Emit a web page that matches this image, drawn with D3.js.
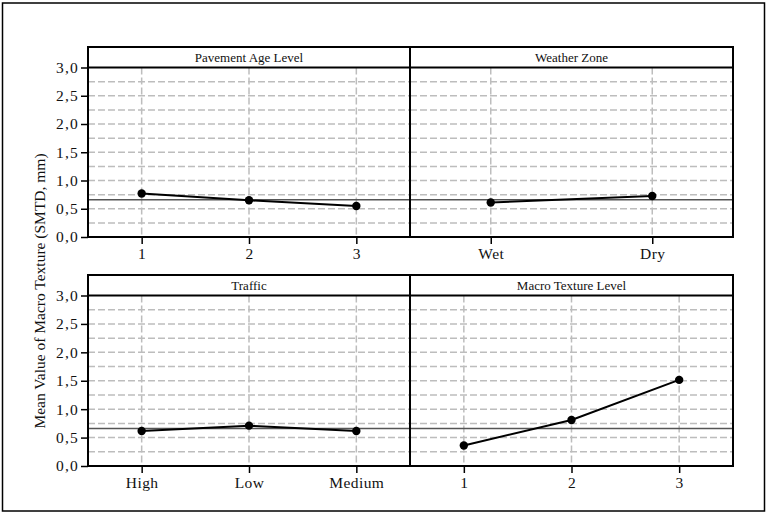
<!DOCTYPE html>
<html>
<head>
<meta charset="utf-8">
<script src="https://cdn.jsdelivr.net/npm/d3@7"></script>
<style>
  body { margin: 0; background: #fff; }
  svg text { font-family: "Liberation Serif", "DejaVu Serif", serif; fill: #111; }
</style>
</head>
<body>
<svg id="chart" width="768" height="514"></svg>
<script>
// panel titles and categories
var panelTitles = ["Pavement Age Level", "Weather Zone", "Traffic", "Macro Texture Level"]
var ageLevels = ["1", "2", "3"]
var weatherZones = ["Wet", "Dry"]
var trafficLevels = ["High", "Low", "Medium"]
var macroLevels = ["1", "2", "3"]

// mean SMTD (mm) for each level
var ageMeans = [0.77, 0.65, 0.55]
var weatherMeans = [0.61, 0.725]
var trafficMeans = [0.615, 0.71, 0.615]
var macroMeans = [0.36, 0.81, 1.515]

var grandMean = 0.66
var yTicks = [0, 0.5, 1, 1.5, 2, 2.5, 3]
var yGrid = [0.25, 0.5, 0.75, 1, 1.25, 1.5, 1.75, 2, 2.25, 2.5, 2.75]

var panels = [
  { title: panelTitles[0], cats: ageLevels, vals: ageMeans, col: 0, row: 0 },
  { title: panelTitles[1], cats: weatherZones, vals: weatherMeans, col: 1, row: 0 },
  { title: panelTitles[2], cats: trafficLevels, vals: trafficMeans, col: 0, row: 1 },
  { title: panelTitles[3], cats: macroLevels, vals: macroMeans, col: 1, row: 1 }
]

var serif = '"Liberation Serif", "DejaVu Serif", serif'
var svg = d3.select("#chart")

// outer frame
svg.append("rect")
   .attr("x", 2.5).attr("y", 3)
   .attr("width", 762).attr("height", 508)
   .attr("fill", "none").attr("stroke", "#000").attr("stroke-width", 1.5)

var colX = [88, 410, 733]
var rowY = [ { strip: 47, top: 67.5, bottom: 237 }, { strip: 275, top: 295.5, bottom: 466 } ]

svg.append("text")
   .attr("transform", "translate(45,291) rotate(-90)")
   .attr("text-anchor", "middle")
   .style("font-size", "15.5px")
   .text("Mean Value of Macro Texture (SMTD, mm)")

panels.forEach(function (p) {
  var x0 = colX[p.col], x1 = colX[p.col + 1]
  var r = rowY[p.row]

  var x = d3.scalePoint().domain(p.cats).range([x0, x1]).padding(0.5)
  var y = d3.scaleLinear().domain([0, 3]).range([r.bottom, r.top])

  var g = svg.append("g")

  // dashed grid
  g.selectAll(".hgrid").data(yGrid).enter().append("line")
   .attr("x1", x0).attr("x2", x1)
   .attr("y1", function (d) { return y(d) }).attr("y2", function (d) { return y(d) })
   .attr("stroke", "#bdbdbd").attr("stroke-width", 1.5).attr("stroke-dasharray", "7,3")

  g.selectAll(".vgrid").data(p.cats).enter().append("line")
   .attr("x1", function (d) { return x(d) }).attr("x2", function (d) { return x(d) })
   .attr("y1", r.top).attr("y2", r.bottom)
   .attr("stroke", "#bdbdbd").attr("stroke-width", 1.5).attr("stroke-dasharray", "7,3")

  // grand mean reference line
  g.append("line")
   .attr("x1", x0).attr("x2", x1)
   .attr("y1", y(grandMean)).attr("y2", y(grandMean))
   .attr("stroke", "#555").attr("stroke-width", 1.5)

  // means
  var line = d3.line()
    .x(function (d, i) { return x(p.cats[i]) })
    .y(function (d) { return y(d) })

  g.append("path")
   .datum(p.vals)
   .attr("d", line)
   .attr("fill", "none").attr("stroke", "#000").attr("stroke-width", 2)

  g.selectAll(".dot").data(p.vals).enter().append("circle")
   .attr("cx", function (d, i) { return x(p.cats[i]) })
   .attr("cy", function (d) { return y(d) })
   .attr("r", 4.2).attr("fill", "#000")

  // x axis
  var xAxis = g.append("g")
    .attr("transform", "translate(0," + r.bottom + ")")
    .call(d3.axisBottom(x).tickSize(7).tickPadding(4))
    .attr("font-family", serif)
  xAxis.select(".domain").remove()
  xAxis.selectAll("line").attr("stroke", "#000").attr("stroke-width", 1.5)
  xAxis.selectAll("text").style("font-size", "15.5px").style("letter-spacing", "0.4px").attr("fill", "#111")

  // y axis on left column only
  if (p.col == 0) {
    var yAxis = g.append("g")
      .attr("transform", "translate(" + x0 + ",0)")
      .call(d3.axisLeft(y).tickValues(yTicks).tickSize(7).tickPadding(2)
        .tickFormat(function (d) { return d3.format(".1f")(d).replace(".", ",") }))
      .attr("font-family", serif)
    yAxis.select(".domain").remove()
    yAxis.selectAll("line").attr("stroke", "#000").attr("stroke-width", 1.5)
    yAxis.selectAll("text").style("font-size", "15.5px").style("letter-spacing", "1.2px").attr("fill", "#111")
  }

  // panel frame and strip
  g.append("rect")
   .attr("x", x0).attr("y", r.strip)
   .attr("width", x1 - x0).attr("height", r.bottom - r.strip)
   .attr("fill", "none").attr("stroke", "#000").attr("stroke-width", 2)

  g.append("line")
   .attr("x1", x0).attr("x2", x1)
   .attr("y1", r.top).attr("y2", r.top)
   .attr("stroke", "#000").attr("stroke-width", 2)

  g.append("text")
   .attr("x", (x0 + x1) / 2).attr("y", r.strip + 14.5)
   .attr("text-anchor", "middle")
   .style("font-size", "13px")
   .text(p.title)
})
</script>
</body>
</html>
